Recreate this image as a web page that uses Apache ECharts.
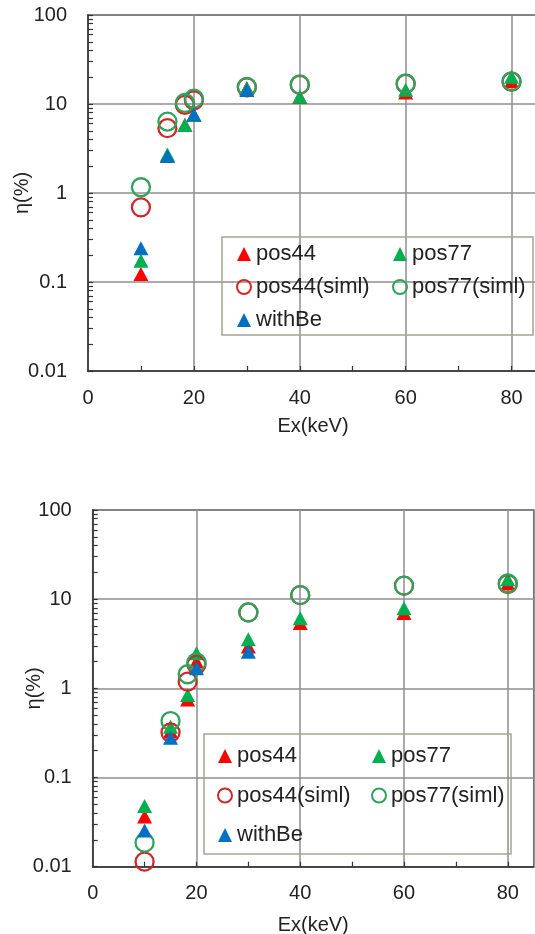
<!DOCTYPE html>
<html>
<head>
<meta charset="utf-8">
<script src="https://cdn.jsdelivr.net/npm/echarts@6/dist/echarts.min.js"></script>
<style>
html,body{margin:0;padding:0;background:#fff;}
#c{width:535px;height:934px;}
</style>
</head>
<body>
<div id="c"></div>
<script>
// ---- data ----
const xTicksMinor = [10, 20, 30, 40, 50, 60, 70, 80];
const yTicksMinor = [0.01,0.02,0.03,0.04,0.05,0.06,0.07,0.08,0.09,
                     0.1,0.2,0.3,0.4,0.5,0.6,0.7,0.8,0.9,
                     1,2,3,4,5,6,7,8,9,
                     10,20,30,40,50,60,70,80,90,100];
const seriesNames = ['pos44', 'pos77', 'pos44(siml)', 'pos77(siml)', 'withBe'];

const xAll = [10, 15, 18.3, 20, 30, 40, 60, 80];
const xBe  = [10, 15, 20, 30];

// top chart
const topPos44     = [0.123, 2.6, 5.8, 7.5, 15.0, 12.0, 13.5, 18.0];
const topPos77     = [0.173, 2.7, 5.8, 7.5, 15.0, 12.1, 14.5, 20.3];
const topPos44Siml = [0.69, 5.35, 9.8, 11.0, 15.4, 16.4, 16.8, 17.8];
const topPos77Siml = [1.16, 6.35, 10.3, 11.5, 15.6, 16.6, 17.0, 18.0];
const topWithBe    = [0.24, 2.6, 7.6, 14.4];

// bottom chart
const botPos44     = [0.0365, 0.33, 0.75, 2.0, 2.94, 5.4, 7.0, 15.0];
const botPos77     = [0.048, 0.37, 0.84, 2.47, 3.55, 6.1, 7.9, 16.7];
const botPos44Siml = [0.0114, 0.32, 1.19, 1.85, 7.1, 11.1, 14.2, 14.8];
const botPos77Siml = [0.0186, 0.43, 1.44, 1.95, 7.1, 11.1, 14.2, 15.0];
const botWithBe    = [0.0254, 0.28, 1.68, 2.58];

// ---- styling ----
const FONT = "'Liberation Sans', Arial, sans-serif";
const AXIS = '#333333';
const GRIDC = '#8e8e8e';
const TXT = '#222222';
const C_RED_TRI = '#ff0000';
const C_GRN_TRI = '#00b050';
const C_BLU_TRI = '#0070c0';
const C_RED_CIR = '#d0282a';
const C_GRN_CIR = '#2fa35a';

function pairs(xs, ys) { return xs.map((x, i) => [x, ys[i]]); }

function makeAxes(gi, xNameGap, yNameGap) {
  const xs = [
    {
      gridIndex: gi, type: 'value', min: 0, max: 85, interval: 20, position: 'bottom',
      axisLine: { show: true, lineStyle: { color: AXIS, width: 1.5 } },
      axisTick: { show: false },
      splitLine: { show: true, lineStyle: { color: GRIDC, width: 1.5 } },
      axisLabel: { fontSize: 20, color: TXT, margin: 17, fontFamily: FONT, showMaxLabel: false },
      name: 'Ex(keV)', nameLocation: 'middle', nameGap: xNameGap, nameMoveOverlap: false,
      nameTextStyle: { fontSize: 20, color: TXT, fontFamily: FONT }
    },
    {
      gridIndex: gi, type: 'value', min: 0, max: 85, position: 'bottom', offset: 0,
      axisLine: { show: false },
      axisTick: { show: true, inside: true, length: 5, customValues: xTicksMinor,
                  lineStyle: { color: AXIS, width: 1.2 } },
      axisLabel: { show: false },
      splitLine: { show: false }
    }
  ];
  const ys = [
    {
      gridIndex: gi, type: 'log', logBase: 10, min: 0.01, max: 100, position: 'left',
      axisLine: { show: true, lineStyle: { color: AXIS, width: 1.5 } },
      axisTick: { show: false },
      splitLine: { show: true, lineStyle: { color: GRIDC, width: 1.5 } },
      axisLabel: { fontSize: 20, color: TXT, margin: 21, fontFamily: FONT,
                   formatter: v => String(+v.toPrecision(6)) },
      name: 'η(%)', nameLocation: 'middle', nameRotate: 90, nameGap: yNameGap, nameMoveOverlap: false,
      nameTextStyle: { fontSize: 20, color: TXT, fontFamily: FONT }
    },
    {
      gridIndex: gi, type: 'log', logBase: 10, min: 0.01, max: 100, position: 'left', offset: 0,
      axisLine: { show: false },
      axisTick: { show: true, inside: true, length: 5, customValues: yTicksMinor,
                  lineStyle: { color: AXIS, width: 1.2 } },
      axisLabel: { show: false },
      splitLine: { show: false }
    }
  ];
  return { xs, ys };
}

function tri(name, color, data, xi, yi) {
  return { name, type: 'scatter', xAxisIndex: xi, yAxisIndex: yi, symbol: 'triangle',
           symbolSize: [15, 14], data, itemStyle: { color: color, opacity: 1 } };
}
function cir(name, color, data, xi, yi) {
  return { name, type: 'scatter', xAxisIndex: xi, yAxisIndex: yi, symbol: 'circle',
           symbolSize: 18, data,
           itemStyle: { color: 'rgba(255,255,255,0)', borderColor: color, borderWidth: 2.3, opacity: 1 } };
}

const a0 = makeAxes(0, 45, 56);
const a1 = makeAxes(1, 49, 48);

const legendText = { fontSize: 22, color: TXT, fontFamily: FONT, lineHeight: 22 };

const option = {
  animation: false,
  backgroundColor: '#ffffff',
  grid: [
    { left: 88, top: 15, width: 450, height: 356, show: true, borderColor: AXIS, borderWidth: 1.5,
      backgroundColor: 'transparent', outerBoundsMode: 'none', containLabel: false },
    { left: 92.7, top: 510, width: 441, height: 356.7, show: true, borderColor: AXIS, borderWidth: 1.5,
      backgroundColor: 'transparent', outerBoundsMode: 'none', containLabel: false }
  ],
  xAxis: [...a0.xs, ...a1.xs],
  yAxis: [...a0.ys, ...a1.ys],
  legend: [
    { orient: 'vertical', left: 236, top: 243, itemWidth: 14, itemHeight: 14, itemGap: 11, padding: 0,
      data: ['pos44', 'pos44(siml)', 'withBe'], textStyle: legendText,
      selectedMode: false },
    { orient: 'vertical', left: 392, top: 243, itemWidth: 14, itemHeight: 14, itemGap: 11, padding: 0,
      data: ['pos77', 'pos77(siml)'], textStyle: legendText, selectedMode: false },
    { orient: 'vertical', left: 217, top: 745, itemWidth: 14, itemHeight: 14, itemGap: 17.5, padding: 0,
      data: ['pos44', 'pos44(siml)', 'withBe'], textStyle: legendText, selectedMode: false },
    { orient: 'vertical', left: 371, top: 745, itemWidth: 14, itemHeight: 14, itemGap: 17.5, padding: 0,
      data: ['pos77', 'pos77(siml)'], textStyle: legendText, selectedMode: false }
  ],
  graphic: [
    { type: 'rect', shape: { x: 222, y: 237, width: 311, height: 98 },
      style: { fill: 'none', stroke: '#a9a397', lineWidth: 1.5 }, silent: true, z: 100 },
    { type: 'rect', shape: { x: 204, y: 734, width: 307, height: 120 },
      style: { fill: 'none', stroke: '#a9a397', lineWidth: 1.5 }, silent: true, z: 100 }
  ],
  series: [
    tri(seriesNames[0], C_RED_TRI, pairs(xAll, topPos44), 0, 0),
    tri(seriesNames[1], C_GRN_TRI, pairs(xAll, topPos77), 0, 0),
    cir(seriesNames[2], C_RED_CIR, pairs(xAll, topPos44Siml), 0, 0),
    cir(seriesNames[3], C_GRN_CIR, pairs(xAll, topPos77Siml), 0, 0),
    tri(seriesNames[4], C_BLU_TRI, pairs(xBe, topWithBe), 0, 0),

    tri(seriesNames[0], C_RED_TRI, pairs(xAll, botPos44), 2, 2),
    tri(seriesNames[1], C_GRN_TRI, pairs(xAll, botPos77), 2, 2),
    cir(seriesNames[2], C_RED_CIR, pairs(xAll, botPos44Siml), 2, 2),
    cir(seriesNames[3], C_GRN_CIR, pairs(xAll, botPos77Siml), 2, 2),
    tri(seriesNames[4], C_BLU_TRI, pairs(xBe, botWithBe), 2, 2)
  ]
};

const chart = echarts.init(document.getElementById('c'), null, { renderer: 'canvas' });
chart.setOption(option);
</script>
</body>
</html>
